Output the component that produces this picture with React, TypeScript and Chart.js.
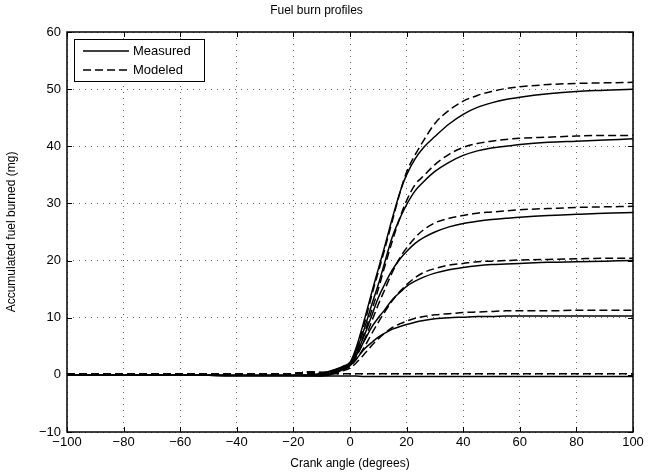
import React, { useEffect, useRef } from "react";
import { Chart, registerables } from "chart.js";

Chart.register(...registerables);

const TITLE = "Fuel burn profiles";
const X_LABEL = "Crank angle (degrees)";
const Y_LABEL = "Accumulated fuel burned (mg)";
const LEGEND_LABELS = ["Measured", "Modeled"];

const X_TICKS = [-100, -80, -60, -40, -20, 0, 20, 40, 60, 80, 100];
const Y_TICKS = [-10, 0, 10, 20, 30, 40, 50, 60];

// crank angle samples
const angles = [-100, -80, -60, -40, -20, -15, -10, -5, -2, 0, 2, 5, 8, 10, 12, 15, 18, 20, 23, 26, 30, 35, 40, 45, 50, 55, 60, 70, 80, 90, 100];

// measured profiles
const measured50 = [0, 0, 0, -0.1, -0.1, 0, 0.3, 1.0, 1.6, 2.2, 4.5, 9.5, 15.0, 18.5, 22.0, 27.5, 32.5, 35.0, 37.8, 39.8, 41.7, 43.9, 45.6, 46.8, 47.6, 48.2, 48.6, 49.2, 49.6, 49.8, 50.0];
const measured41 = [0, 0, 0, -0.1, -0.1, -0.1, 0.1, 0.9, 1.5, 2.0, 4.0, 8.0, 12.8, 15.8, 19.2, 24.2, 27.8, 29.8, 32.2, 33.8, 35.6, 37.2, 38.4, 39.2, 39.7, 40.0, 40.3, 40.7, 40.9, 41.1, 41.3];
const measured28 = [0, 0, 0, -0.1, -0.1, -0.1, 0, 0.7, 1.4, 1.9, 3.5, 6.8, 10.8, 13.5, 15.6, 18.4, 20.5, 21.6, 23.0, 24.0, 25.0, 25.9, 26.5, 26.9, 27.2, 27.4, 27.6, 27.9, 28.1, 28.3, 28.4];
const measured20 = [0, 0, 0, -0.1, -0.1, -0.1, -0.1, 0.5, 1.3, 1.8, 3.2, 5.9, 8.6, 10.0, 11.2, 13.2, 14.6, 15.5, 16.4, 17.1, 17.8, 18.4, 18.8, 19.1, 19.3, 19.4, 19.5, 19.7, 19.8, 19.9, 20.0];
const measured10 = [0, 0, 0, -0.1, -0.1, -0.1, -0.2, 0.3, 1.1, 1.6, 2.6, 4.5, 5.8, 6.6, 7.2, 8.0, 8.5, 8.8, 9.2, 9.5, 9.8, 10.0, 10.1, 10.2, 10.2, 10.3, 10.3, 10.3, 10.3, 10.3, 10.3];
const measured0 = [0, 0, 0, -0.1, -0.1, -0.2, -0.2, -0.2, -0.2, -0.2, -0.2, -0.3, -0.3, -0.3, -0.3, -0.3, -0.3, -0.3, -0.3, -0.3, -0.3, -0.3, -0.3, -0.3, -0.3, -0.3, -0.3, -0.3, -0.3, -0.3, -0.3];

// modeled profiles
const modeled51 = [0.1, 0.1, 0.1, 0.1, 0.2, 0.5, 0.4, 0.8, 1.4, 2.0, 4.0, 8.8, 14.5, 18.0, 21.5, 27.0, 32.5, 35.5, 38.5, 41.0, 44.0, 46.3, 47.9, 48.9, 49.6, 50.1, 50.4, 50.8, 51.0, 51.1, 51.2];
const modeled42 = [0.1, 0.1, 0.1, 0.1, 0.2, 0.5, 0.4, 0.7, 1.2, 1.8, 3.5, 7.2, 11.8, 15.0, 18.5, 23.5, 28.0, 30.5, 33.3, 34.8, 36.8, 38.6, 39.8, 40.5, 40.9, 41.2, 41.4, 41.6, 41.8, 41.9, 41.9];
const modeled29 = [0.1, 0.1, 0.1, 0.1, 0.2, 0.5, 0.4, 0.6, 1.1, 1.6, 3.0, 6.0, 9.8, 12.3, 14.6, 18.0, 20.8, 22.2, 24.0, 25.4, 26.6, 27.4, 27.9, 28.3, 28.5, 28.7, 28.9, 29.1, 29.3, 29.4, 29.5];
const modeled20 = [0.1, 0.1, 0.1, 0.1, 0.2, 0.5, 0.3, 0.5, 1.0, 1.5, 2.6, 4.8, 7.5, 9.2, 10.8, 13.0, 14.8, 15.8, 17.0, 17.9, 18.6, 19.2, 19.5, 19.8, 19.9, 20.0, 20.1, 20.2, 20.3, 20.4, 20.4];
const modeled11 = [0.1, 0.1, 0.1, 0.1, 0.2, 0.5, 0.3, 0.4, 0.8, 1.2, 2.0, 3.6, 5.3, 6.3, 7.2, 8.3, 9.0, 9.4, 9.9, 10.2, 10.5, 10.7, 10.9, 11.0, 11.1, 11.2, 11.2, 11.2, 11.3, 11.3, 11.3];
const modeled0 = [0.1, 0.1, 0.1, 0.1, 0.2, 0.2, 0.2, 0.2, 0.2, 0.2, 0.2, 0.2, 0.2, 0.2, 0.2, 0.2, 0.2, 0.2, 0.2, 0.2, 0.2, 0.2, 0.2, 0.2, 0.2, 0.2, 0.2, 0.2, 0.2, 0.2, 0.2];

const measuredSeries = [measured50, measured41, measured28, measured20, measured10, measured0];
const modeledSeries = [modeled51, modeled42, modeled29, modeled20, modeled11, modeled0];

const FONT = "'Liberation Sans', Arial, Helvetica, sans-serif";
const DASH = [8, 4];

const minus = (v: number) => (v < 0 ? "\u2212" + Math.abs(v) : String(v));

const framePlugin = {
  id: "frame",
  afterDraw(chart: any) {
    const { ctx, chartArea } = chart;
    const { left, right, top, bottom } = chartArea;
    const xs = chart.scales.x;
    const ys = chart.scales.y;
    ctx.save();
    ctx.strokeStyle = "#000";
    ctx.lineWidth = 1.5;
    ctx.setLineDash([]);
    ctx.strokeRect(left, top, right - left, bottom - top);
    ctx.lineWidth = 1;
    const tl = 5;
    ctx.beginPath();
    X_TICKS.forEach((v) => {
      const p = Math.round(xs.getPixelForValue(v)) + 0.5;
      ctx.moveTo(p, bottom);
      ctx.lineTo(p, bottom - tl);
      ctx.moveTo(p, top);
      ctx.lineTo(p, top + tl);
    });
    Y_TICKS.forEach((v) => {
      const p = Math.round(ys.getPixelForValue(v)) + 0.5;
      ctx.moveTo(left, p);
      ctx.lineTo(left + tl, p);
      ctx.moveTo(right, p);
      ctx.lineTo(right - tl, p);
    });
    ctx.stroke();

    // legend
    const lx = left + 7;
    const ly = top + 7;
    const lw = 130;
    const lh = 42;
    ctx.fillStyle = "#fff";
    ctx.fillRect(lx, ly, lw, lh);
    ctx.lineWidth = 1;
    ctx.strokeStyle = "#000";
    ctx.strokeRect(lx + 0.5, ly + 0.5, lw, lh);
    ctx.font = "13px " + FONT;
    ctx.fillStyle = "#000";
    ctx.textBaseline = "middle";
    ctx.textAlign = "left";
    LEGEND_LABELS.forEach((label, i) => {
      const yy = ly + 12 + i * 19;
      ctx.lineWidth = 1.5;
      ctx.setLineDash(i === 0 ? [] : DASH);
      ctx.beginPath();
      ctx.moveTo(lx + 9, yy);
      ctx.lineTo(lx + 55, yy);
      ctx.stroke();
      ctx.setLineDash([]);
      ctx.fillText(label, lx + 59, yy + 0.5);
    });
    ctx.restore();
  },
};

export default function App() {
  const ref = useRef<HTMLCanvasElement | null>(null);

  useEffect(() => {
    if (!ref.current) return;
    const datasets: any[] = [];
    measuredSeries.forEach((s, i) => {
      datasets.push({
        label: "Measured " + (i + 1),
        data: angles.map((a, j) => ({ x: a, y: s[j] })),
        borderColor: "#000",
        borderWidth: 1.5,
        pointRadius: 0,
        fill: false,
        cubicInterpolationMode: "monotone",
      });
    });
    modeledSeries.forEach((s, i) => {
      datasets.push({
        label: "Modeled " + (i + 1),
        data: angles.map((a, j) => ({ x: a, y: s[j] })),
        borderColor: "#000",
        borderWidth: 1.5,
        borderDash: DASH,
        pointRadius: 0,
        fill: false,
        cubicInterpolationMode: "monotone",
      });
    });

    const chart = new Chart(ref.current, {
      type: "line",
      data: { datasets },
      plugins: [framePlugin],
      options: {
        animation: false,
        responsive: false,
        maintainAspectRatio: false,
        layout: { padding: { left: 0, right: 22, top: 0, bottom: 0 } },
        plugins: {
          legend: { display: false },
          tooltip: { enabled: false },
          title: {
            display: true,
            text: TITLE,
            color: "#000",
            font: { family: FONT, size: 12, weight: "normal" },
            padding: { top: 3, bottom: 14.6 },
          },
        },
        scales: {
          x: {
            type: "linear",
            min: -100,
            max: 100,
            afterFit: (s: any) => {
              s.height = 41;
            },
            afterBuildTicks: (s: any) => {
              s.ticks = X_TICKS.map((v) => ({ value: v }));
            },
            ticks: {
              color: "#000",
              font: { family: FONT, size: 13 },
              padding: 3,
              maxRotation: 0,
              autoSkip: false,
              callback: (v: any) => minus(Number(v)),
            },
            grid: {
              color: "rgba(0,0,0,0.6)",
              lineWidth: 1,
              drawTicks: false,
            },
            border: { display: false, dash: [1, 5] },
            title: {
              display: true,
              text: X_LABEL,
              color: "#000",
              font: { family: FONT, size: 12 },
              padding: { top: 0, bottom: 2 },
            },
          },
          y: {
            type: "linear",
            min: -10,
            max: 60,
            afterFit: (s: any) => {
              s.width = 67;
            },
            afterBuildTicks: (s: any) => {
              s.ticks = Y_TICKS.map((v) => ({ value: v }));
            },
            ticks: {
              color: "#000",
              font: { family: FONT, size: 13 },
              padding: 6,
              autoSkip: false,
              callback: (v: any) => minus(Number(v)),
            },
            grid: {
              color: "rgba(0,0,0,0.6)",
              lineWidth: 1,
              drawTicks: false,
            },
            border: { display: false, dash: [1, 5] },
            title: {
              display: true,
              text: Y_LABEL,
              color: "#000",
              font: { family: FONT, size: 12 },
              padding: { top: 4, bottom: 0 },
            },
          },
        },
      },
    });
    return () => chart.destroy();
  }, []);

  return (
    <div style={{ position: "fixed", left: 0, top: 0, width: 655, height: 473, background: "#fff" }}>
      <canvas ref={ref} width={655} height={473} style={{ width: 655, height: 473, display: "block" }} />
    </div>
  );
}
